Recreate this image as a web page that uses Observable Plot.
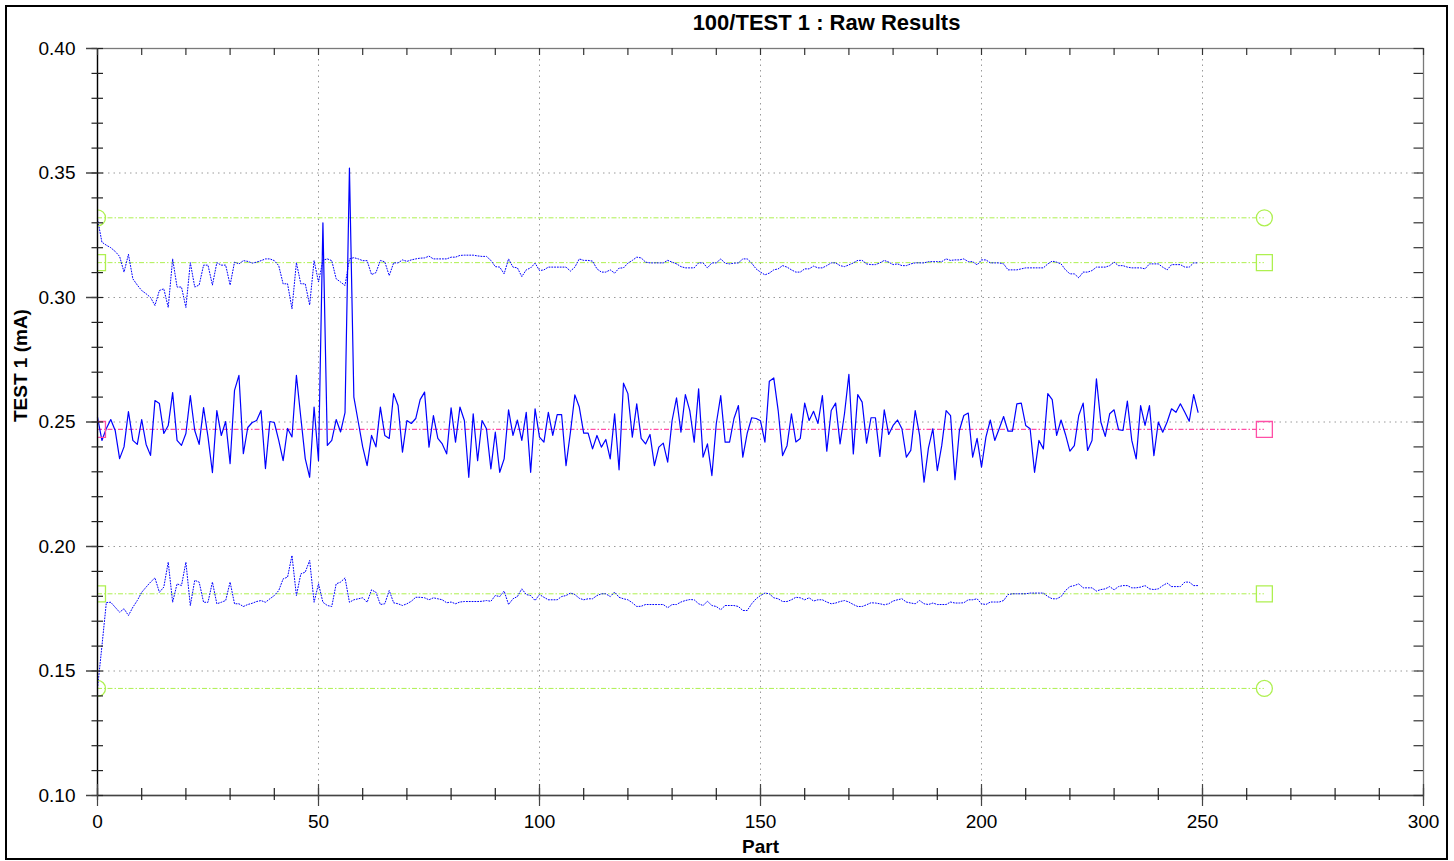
<!DOCTYPE html>
<html>
<head>
<meta charset="utf-8">
<script src="https://cdn.jsdelivr.net/npm/d3@7"></script>
<script src="https://cdn.jsdelivr.net/npm/@observablehq/plot@0.6"></script>
<style>
  html, body { margin: 0; padding: 0; background: #fff; overflow: hidden; }
  #wrap { position: relative; width: 1454px; height: 861px; }
  #border { position: absolute; left: 5px; top: 5px; width: 1443px; height: 855px; border: 2px solid #000; box-sizing: border-box; pointer-events: none; }
  #chart { position: absolute; left: 0; top: 0; }
</style>
</head>
<body>
<div id="wrap"><div id="chart"></div><div id="border"></div></div>
<script>
// ---- data ----
const title = "100/TEST 1 : Raw Results";
const xLabel = "Part";
const yLabel = "TEST 1 (mA)";

const xTicksMajor = [0, 50, 100, 150, 200, 250, 300];
const xTicksMinor = [0,10,20,30,40,50,60,70,80,90,100,110,120,130,140,150,160,170,180,190,200,210,220,230,240,250,260,270,280,290,300];
const yTicksMajor = [0.10, 0.15, 0.20, 0.25, 0.30, 0.35, 0.40];
const yTicksMinor = [0.10,0.11,0.12,0.13,0.14,0.15,0.16,0.17,0.18,0.19,0.20,0.21,0.22,0.23,0.24,0.25,0.26,0.27,0.28,0.29,0.30,0.31,0.32,0.33,0.34,0.35,0.36,0.37,0.38,0.39,0.40];

// control limits (circles), spec limits (squares), mean (pink square)
const controlLimits = [0.332, 0.143];
const specLimits = [0.314, 0.181];
const meanValue = [0.247];
const limitStart = 0;
const limitEnd = 264;

// raw results, part 0..249
const rawResults = [
0.2520,0.2426,0.2474,0.2510,0.2466,0.2353,0.2400,0.2542,0.2426,0.2410,
0.2510,0.2410,0.2366,0.2586,0.2574,0.2454,0.2486,0.2618,0.2426,0.2406,
0.2454,0.2606,0.2466,0.2410,0.2558,0.2440,0.2297,0.2546,0.2446,0.2502,
0.2333,0.2627,0.2687,0.2373,0.2478,0.2498,0.2506,0.2546,0.2313,0.2502,
0.2498,0.2426,0.2345,0.2474,0.2440,0.2687,0.2518,0.2353,0.2278,0.2560,
0.2345,0.3300,0.2406,0.2426,0.2510,0.2460,0.2538,0.3520,0.2600,0.2500,
0.2400,0.2325,0.2446,0.2400,0.2560,0.2446,0.2434,0.2614,0.2566,0.2379,
0.2506,0.2494,0.2514,0.2590,0.2620,0.2399,0.2526,0.2434,0.2412,0.2372,
0.2557,0.2419,0.2560,0.2506,0.2278,0.2533,0.2345,0.2506,0.2473,0.2312,
0.2459,0.2298,0.2352,0.2549,0.2446,0.2508,0.2426,0.2539,0.2298,0.2553,
0.2439,0.2419,0.2539,0.2446,0.2530,0.2530,0.2325,0.2459,0.2609,0.2560,
0.2455,0.2455,0.2392,0.2446,0.2399,0.2430,0.2352,0.2533,0.2308,0.2656,
0.2614,0.2439,0.2573,0.2434,0.2412,0.2450,0.2325,0.2399,0.2415,0.2339,
0.2506,0.2597,0.2459,0.2610,0.2546,0.2419,0.2633,0.2359,0.2412,0.2285,
0.2494,0.2606,0.2419,0.2419,0.2514,0.2566,0.2359,0.2455,0.2517,0.2514,
0.2505,0.2419,0.2664,0.2677,0.2546,0.2365,0.2405,0.2533,0.2420,0.2434,
0.2576,0.2506,0.2543,0.2494,0.2606,0.2383,0.2546,0.2576,0.2412,0.2533,
0.2691,0.2372,0.2610,0.2580,0.2415,0.2517,0.2517,0.2362,0.2549,0.2450,
0.2486,0.2508,0.2473,0.2359,0.2386,0.2546,0.2446,0.2258,0.2396,0.2473,
0.2305,0.2405,0.2546,0.2526,0.2268,0.2466,0.2526,0.2536,0.2359,0.2434,
0.2319,0.2439,0.2508,0.2426,0.2473,0.2522,0.2463,0.2463,0.2573,0.2576,
0.2486,0.2473,0.2298,0.2426,0.2392,0.2614,0.2590,0.2446,0.2508,0.2450,
0.2383,0.2405,0.2526,0.2576,0.2386,0.2426,0.2673,0.2500,0.2442,0.2533,
0.2549,0.2469,0.2466,0.2584,0.2426,0.2352,0.2566,0.2486,0.2566,0.2365,
0.2500,0.2459,0.2500,0.2553,0.2539,0.2573,0.2539,0.2503,0.2610,0.2539
];

// upper moving envelope
const upperEnvelope = [
0.3316,0.3222,0.3210,0.3200,0.3185,0.3165,0.3102,0.3173,0.3075,0.3050,
0.3028,0.3015,0.3000,0.2968,0.3028,0.3035,0.2960,0.3155,0.3042,0.3042,
0.2960,0.3140,0.3042,0.3050,0.3130,0.3130,0.3050,0.3140,0.3130,0.3130,
0.3050,0.3142,0.3135,0.3148,0.3145,0.3138,0.3142,0.3148,0.3155,0.3155,
0.3148,0.3128,0.3055,0.3055,0.2955,0.3140,0.3055,0.3055,0.2970,0.3148,
0.3062,0.3150,0.3155,0.3148,0.3075,0.3062,0.3048,0.3155,0.3160,0.3155,
0.3148,0.3148,0.3092,0.3100,0.3149,0.3143,0.3088,0.3139,0.3139,0.3151,
0.3145,0.3151,0.3155,0.3158,0.3159,0.3166,0.3155,0.3155,0.3155,0.3155,
0.3162,0.3162,0.3169,0.3170,0.3170,0.3170,0.3167,0.3165,0.3165,0.3149,
0.3124,0.3122,0.3095,0.3155,0.3122,0.3119,0.3084,0.3111,0.3119,0.3138,
0.3108,0.3111,0.3122,0.3122,0.3122,0.3122,0.3122,0.3106,0.3122,0.3155,
0.3149,0.3149,0.3146,0.3115,0.3102,0.3102,0.3111,0.3098,0.3118,0.3119,
0.3138,0.3149,0.3162,0.3159,0.3142,0.3139,0.3139,0.3139,0.3139,0.3149,
0.3142,0.3135,0.3124,0.3119,0.3119,0.3119,0.3139,0.3139,0.3119,0.3139,
0.3139,0.3155,0.3138,0.3135,0.3138,0.3139,0.3155,0.3155,0.3138,0.3115,
0.3102,0.3091,0.3098,0.3111,0.3115,0.3128,0.3122,0.3111,0.3102,0.3102,
0.3115,0.3115,0.3126,0.3119,0.3119,0.3128,0.3139,0.3139,0.3128,0.3124,
0.3131,0.3139,0.3149,0.3149,0.3135,0.3132,0.3132,0.3139,0.3149,0.3142,
0.3132,0.3135,0.3128,0.3128,0.3135,0.3139,0.3139,0.3139,0.3144,0.3144,
0.3144,0.3144,0.3155,0.3149,0.3151,0.3151,0.3155,0.3144,0.3144,0.3131,
0.3151,0.3151,0.3139,0.3139,0.3139,0.3135,0.3111,0.3111,0.3111,0.3115,
0.3119,0.3119,0.3119,0.3119,0.3119,0.3135,0.3146,0.3142,0.3135,0.3111,
0.3095,0.3095,0.3079,0.3102,0.3102,0.3108,0.3122,0.3122,0.3122,0.3128,
0.3142,0.3128,0.3128,0.3122,0.3119,0.3119,0.3119,0.3115,0.3135,0.3135,
0.3135,0.3122,0.3111,0.3132,0.3132,0.3132,0.3122,0.3122,0.3139,0.3139
];

// lower moving envelope
const lowerEnvelope = [
0.1430,0.1600,0.1775,0.1776,0.1756,0.1736,0.1750,0.1723,0.1756,0.1783,
0.1816,0.1837,0.1857,0.1874,0.1816,0.1837,0.1937,0.1776,0.1850,0.1843,
0.1937,0.1763,0.1864,0.1857,0.1776,0.1776,0.1857,0.1770,0.1776,0.1783,
0.1857,0.1770,0.1770,0.1759,0.1767,0.1772,0.1779,0.1783,0.1776,0.1790,
0.1803,0.1823,0.1870,0.1877,0.1964,0.1803,0.1890,0.1897,0.1944,0.1776,
0.1850,0.1776,0.1763,0.1759,0.1850,0.1857,0.1874,0.1776,0.1786,0.1790,
0.1794,0.1776,0.1826,0.1816,0.1767,0.1770,0.1823,0.1774,0.1770,0.1763,
0.1770,0.1780,0.1796,0.1796,0.1794,0.1786,0.1794,0.1790,0.1786,0.1774,
0.1777,0.1770,0.1777,0.1779,0.1779,0.1779,0.1779,0.1780,0.1783,0.1780,
0.1803,0.1799,0.1821,0.1767,0.1790,0.1799,0.1830,0.1807,0.1803,0.1783,
0.1807,0.1796,0.1786,0.1786,0.1786,0.1799,0.1803,0.1813,0.1807,0.1792,
0.1786,0.1790,0.1790,0.1803,0.1810,0.1810,0.1799,0.1817,0.1796,0.1790,
0.1786,0.1774,0.1759,0.1760,0.1767,0.1767,0.1767,0.1767,0.1767,0.1754,
0.1767,0.1767,0.1777,0.1783,0.1787,0.1786,0.1770,0.1763,0.1780,0.1763,
0.1759,0.1746,0.1763,0.1763,0.1763,0.1759,0.1743,0.1743,0.1770,0.1790,
0.1803,0.1813,0.1810,0.1794,0.1790,0.1779,0.1779,0.1786,0.1796,0.1794,
0.1786,0.1794,0.1781,0.1786,0.1786,0.1777,0.1770,0.1773,0.1779,0.1783,
0.1777,0.1767,0.1759,0.1759,0.1766,0.1774,0.1773,0.1770,0.1766,0.1770,
0.1781,0.1786,0.1790,0.1777,0.1773,0.1770,0.1783,0.1770,0.1767,0.1773,
0.1767,0.1767,0.1767,0.1777,0.1773,0.1773,0.1774,0.1786,0.1786,0.1790,
0.1770,0.1767,0.1777,0.1777,0.1777,0.1783,0.1807,0.1810,0.1810,0.1810,
0.1810,0.1813,0.1813,0.1813,0.1813,0.1799,0.1790,0.1790,0.1799,0.1823,
0.1839,0.1843,0.1850,0.1834,0.1834,0.1834,0.1821,0.1827,0.1830,0.1839,
0.1826,0.1839,0.1843,0.1843,0.1834,0.1834,0.1837,0.1843,0.1830,0.1827,
0.1830,0.1843,0.1853,0.1839,0.1839,0.1839,0.1857,0.1857,0.1843,0.1843
];

// ---- chart ----
const W = 1454, H = 861;
const mL = 97, mR = 31, mT = 48, mB = 66;
const xDomain = [0, 300], yDomain = [0.10, 0.40];
const pxX = (W - mL - mR) / (xDomain[1] - xDomain[0]); // px per x unit
const pxY = (H - mT - mB) / (yDomain[1] - yDomain[0]); // px per y unit
const dxu = px => px / pxX;
const dyu = px => px / pxY;

const GREEN = "#aef050";
const PINK = "#ff4fa6";
const BLUE = "#0000ff";
const FONT = "'Liberation Sans', Arial, sans-serif";

const idx = (d, i) => i;
const val = d => d;
const gridX = xTicksMajor.filter(v => v > xDomain[0] && v < xDomain[1]);
const gridY = yTicksMajor.filter(v => v > yDomain[0] && v < yDomain[1]);

const chart = Plot.plot({
  width: W, height: H,
  marginLeft: mL, marginRight: mR, marginTop: mT, marginBottom: mB,
  x: {domain: xDomain},
  y: {domain: yDomain},
  style: {fontFamily: FONT, background: "white", color: "#000", overflow: "visible"},
  marks: [
    // dotted grid
    Plot.ruleX(gridX, {stroke: "#9a9a9a", strokeDasharray: "1.5,4", strokeWidth: 1}),
    Plot.ruleY(gridY, {stroke: "#9a9a9a", strokeDasharray: "1.5,4", strokeWidth: 1}),

    // limit lines
    Plot.ruleY(controlLimits, {x1: () => limitStart, x2: () => limitEnd, stroke: GREEN, strokeWidth: 1, strokeDasharray: "5,2,1.5,2"}),
    Plot.ruleY(specLimits, {x1: () => limitStart, x2: () => limitEnd, stroke: GREEN, strokeWidth: 1, strokeDasharray: "5,2,1.5,2"}),
    Plot.ruleY(meanValue, {x1: () => limitStart, x2: () => limitEnd, stroke: PINK, strokeWidth: 1.3, strokeDasharray: "5,2,1.5,2"}),

    // envelopes
    Plot.line(upperEnvelope, {x: idx, y: val, stroke: BLUE, strokeWidth: 1, strokeDasharray: "1,1.8", curve: "linear"}),
    Plot.line(lowerEnvelope, {x: idx, y: val, stroke: BLUE, strokeWidth: 1, strokeDasharray: "1,1.8", curve: "linear"}),

    // raw results
    Plot.line(rawResults, {x: idx, y: val, stroke: BLUE, strokeWidth: 1.2, curve: "linear"}),

    // limit markers, right end
    Plot.dot(controlLimits, {x: () => limitEnd, y: val, symbol: "circle", r: 8, stroke: GREEN, fill: "none", strokeWidth: 1.3}),
    Plot.dot(specLimits, {x: () => limitEnd, y: val, symbol: "square", r: 9, stroke: GREEN, fill: "none", strokeWidth: 1.3}),
    Plot.dot(meanValue, {x: () => limitEnd, y: val, symbol: "square", r: 9, stroke: PINK, fill: "none", strokeWidth: 1.3}),
    // limit markers, left end (clipped by the frame)
    Plot.dot(controlLimits, {x: () => limitStart, y: val, symbol: "circle", r: 8, stroke: GREEN, fill: "none", strokeWidth: 1.3, clip: true}),
    Plot.dot(specLimits, {x: () => limitStart, y: val, symbol: "square", r: 9, stroke: GREEN, fill: "none", strokeWidth: 1.3, clip: true}),
    Plot.dot(meanValue, {x: () => limitStart, y: val, symbol: "square", r: 9, stroke: PINK, fill: "none", strokeWidth: 1.3, clip: true}),

    // frame
    Plot.frame({stroke: "#7a7a7a", strokeWidth: 1.3}),
    Plot.ruleX([xDomain[0]], {stroke: "#000", strokeWidth: 1.3}),
    Plot.ruleY([yDomain[0]], {stroke: "#444", strokeWidth: 1.5}),

    // left axis ticks (crossing)
    Plot.ruleY(yTicksMinor, {x1: () => xDomain[0] - dxu(5.5), x2: () => xDomain[0] + dxu(6), stroke: "#222", strokeWidth: 1.2}),
    Plot.ruleY(yTicksMajor, {x1: () => xDomain[0] - dxu(11), x2: () => xDomain[0], stroke: "#444", strokeWidth: 1.5}),
    // right axis ticks (inward)
    Plot.ruleY(yTicksMinor, {x1: () => xDomain[1] - dxu(9.5), x2: () => xDomain[1], stroke: "#333", strokeWidth: 1.2}),
    // bottom axis ticks (crossing)
    Plot.ruleX(xTicksMinor, {y1: () => yDomain[0] - dyu(5), y2: () => yDomain[0] + dyu(7), stroke: "#222", strokeWidth: 1.2}),
    Plot.ruleX(xTicksMajor, {y1: () => yDomain[0] - dyu(11), y2: () => yDomain[0] + dyu(11), stroke: "#444", strokeWidth: 1.2}),
    // top axis ticks (inward)
    Plot.ruleX(xTicksMinor, {y1: () => yDomain[1] - dyu(7), y2: () => yDomain[1], stroke: "#333", strokeWidth: 1.2}),

    // tick labels
    Plot.axisY(yTicksMajor, {tickSize: 0, tickPadding: 22, tickFormat: d3.format(".2f"), fontSize: 19, label: null, fill: "#000"}),
    Plot.axisX(xTicksMajor, {tickSize: 0, tickPadding: 19, tickFormat: d3.format("d"), fontSize: 19, label: null, fill: "#000"}),

    // titles
    Plot.text([title], {frameAnchor: "top", dx: 66, dy: -26, fontSize: 22, fontWeight: "bold", fill: "#000", lineAnchor: "middle"}),
    Plot.text([xLabel], {frameAnchor: "bottom", dy: 51, fontSize: 19, fontWeight: "bold", fill: "#000", lineAnchor: "middle"}),
    Plot.text([yLabel], {frameAnchor: "left", dx: -77, rotate: -90, fontSize: 19, fontWeight: "bold", fill: "#000", lineAnchor: "middle"})
  ]
});
document.getElementById("chart").appendChild(chart);
</script>
</body>
</html>
